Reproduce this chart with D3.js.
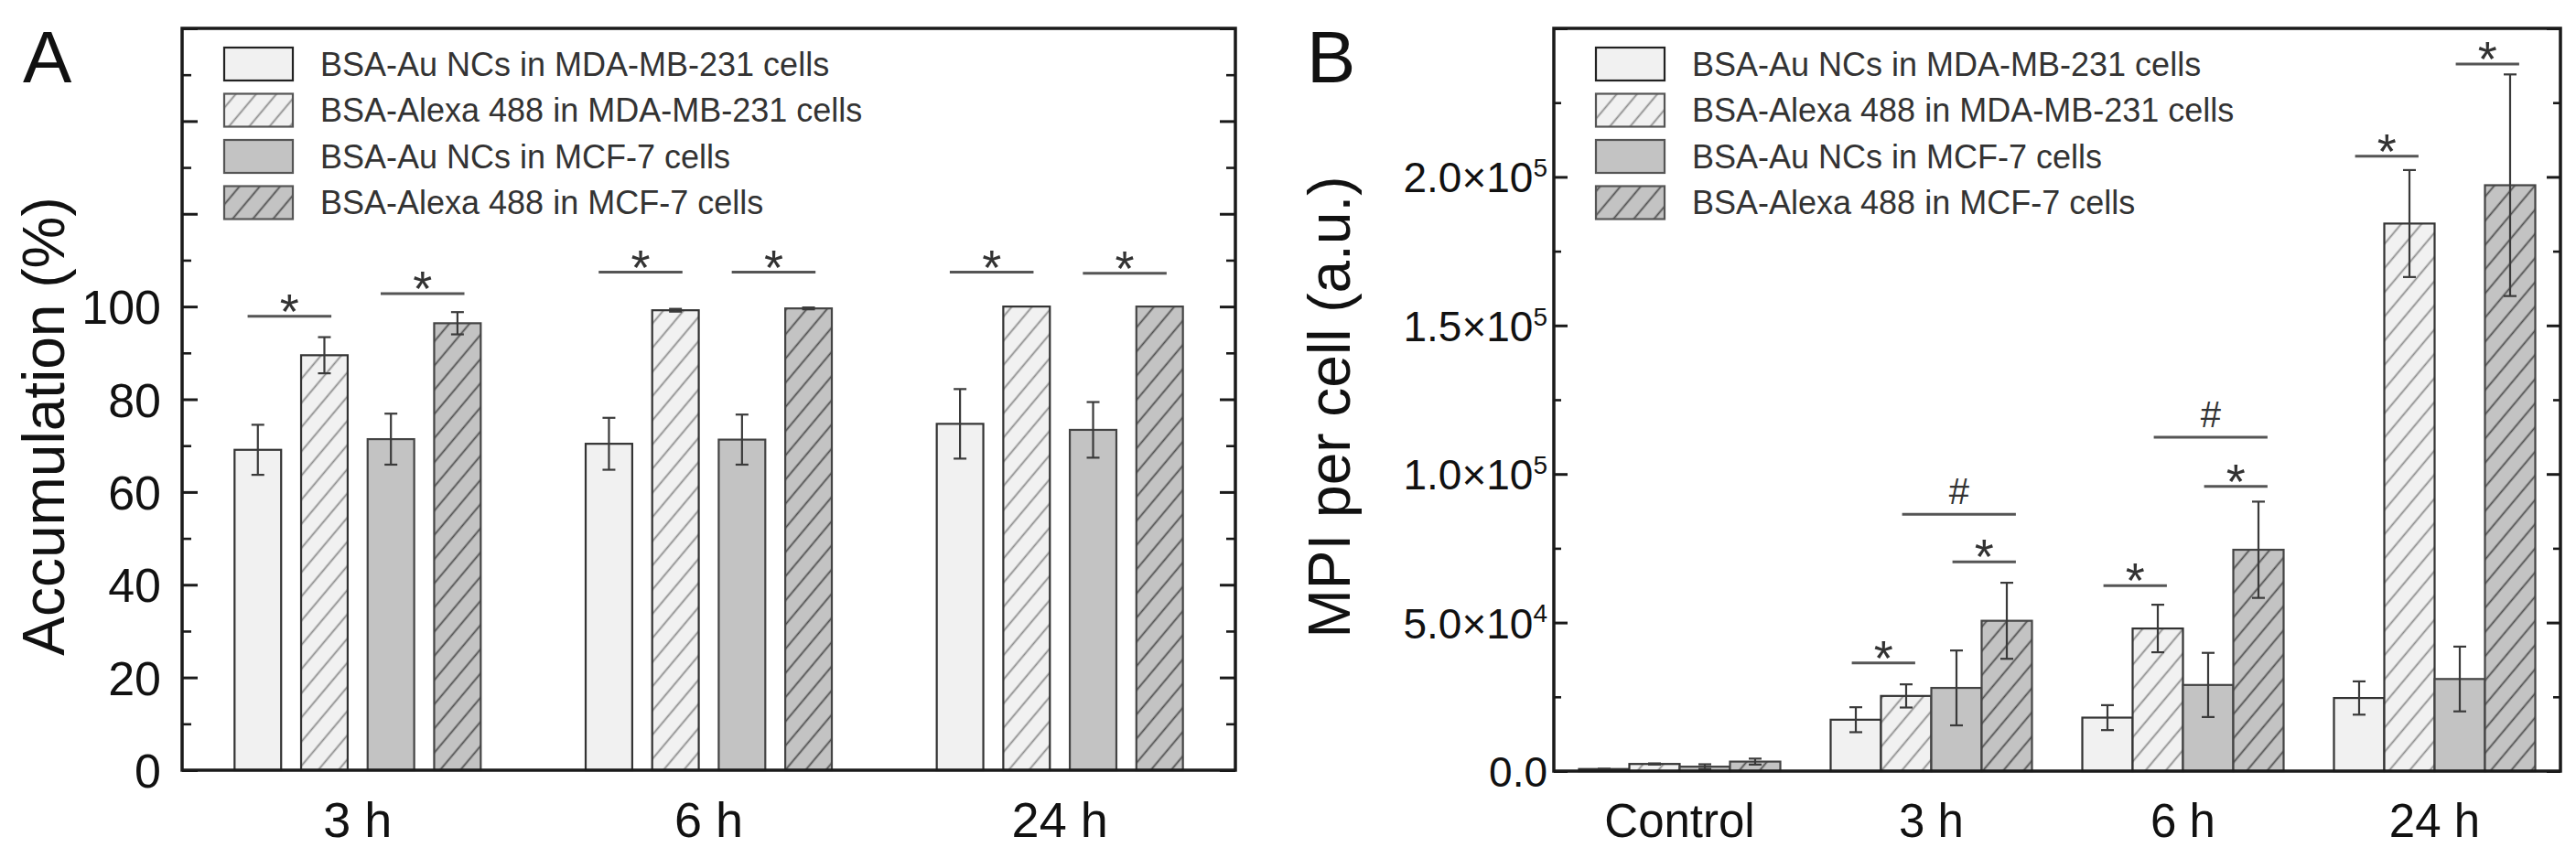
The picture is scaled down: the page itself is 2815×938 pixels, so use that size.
<!DOCTYPE html>
<html><head><meta charset="utf-8">
<script src="https://cdn.jsdelivr.net/npm/d3@7"></script>
<style>html,body{margin:0;padding:0;background:#fff;} svg{display:block;font-family:"Liberation Sans",Arial,Helvetica,sans-serif;}</style>
</head><body>
<svg id="chart" width="2815" height="938"></svg>
<script>
// ---------- DATA ----------
const seriesNames = [
  "BSA-Au NCs in MDA-MB-231 cells",
  "BSA-Alexa 488 in MDA-MB-231 cells",
  "BSA-Au NCs in MCF-7 cells",
  "BSA-Alexa 488 in MCF-7 cells"
];
// Panel A: accumulation (%)
const groupsA = ["3 h", "6 h", "24 h"];
const accAuMDA     = [69.1, 70.4, 74.7];
const accAlexaMDA  = [89.5, 99.2, 100];
const accAuMCF     = [71.4, 71.3, 73.4];
const accAlexaMCF  = [96.4, 99.6, 100];
const errAuMDA     = [5.4, 5.6, 7.5];
const errAlexaMDA  = [3.9, 0.3, 0];
const errAuMCF     = [5.5, 5.4, 6.0];
const errAlexaMCF  = [2.4, 0.2, 0];
const tickLabelsA  = ["0", "20", "40", "60", "80", "100"];
// significance marks panel A: [group, bar i, bar j, y, label]
const sigA = [
  ["3 h", 0, 1, 97.9, "*"], ["3 h", 2, 3, 102.8, "*"],
  ["6 h", 0, 1, 107.4, "*"], ["6 h", 2, 3, 107.4, "*"],
  ["24 h", 0, 1, 107.4, "*"], ["24 h", 2, 3, 107.2, "*"]
];
// Panel B: MPI per cell (a.u.)
const groupsB = ["Control", "3 h", "6 h", "24 h"];
const mpiAuMDA     = [700, 17300, 18000, 24600];
const mpiAlexaMDA  = [2400, 25300, 48000, 184300];
const mpiAuMCF     = [1500, 28000, 29000, 31000];
const mpiAlexaMCF  = [3200, 50600, 74500, 197200];
const mErrAuMDA    = [100, 4200, 4200, 5600];
const mErrAlexaMDA = [200, 3900, 8000, 18000];
const mErrAuMCF    = [800, 12600, 10800, 10900];
const mErrAlexaMCF = [1000, 12800, 16200, 37300];
const tickValuesB  = [0, 50000, 100000, 150000, 200000];
const tickMantB    = ["0.0", "5.0\u00d710", "1.0\u00d710", "1.5\u00d710", "2.0\u00d710"];
const tickExpB     = ["", "4", "5", "5", "5"];
const sigB = [
  ["3 h", 0, 1, 36400, "*"], ["3 h", 2, 3, 70400, "*"], ["3 h", 1, 3, 86400, "#"],
  ["6 h", 0, 1, 62400, "*"], ["6 h", 2, 3, 95800, "*"], ["6 h", 1, 3, 112400, "#"],
  ["24 h", 0, 1, 207000, "*"], ["24 h", 2, 3, 238000, "*"]
];

// ---------- SETUP ----------
const svg = d3.select("#chart");
const defs = svg.append("defs");
function hatch(id, bg, fg) {
  const p = defs.append("pattern").attr("id", id).attr("patternUnits", "userSpaceOnUse")
    .attr("width", 17).attr("height", 10).attr("patternTransform", "rotate(40)");
  p.append("rect").attr("width", 17).attr("height", 10).attr("fill", bg);
  p.append("line").attr("x1", 8.5).attr("x2", 8.5).attr("y1", -1).attr("y2", 11)
    .attr("stroke", fg).attr("stroke-width", 1.8);
}
hatch("hatchL", "#f1f1f1", "#8c8c8c");
hatch("hatchG", "#c3c3c3", "#4e4e4e");
const fills = ["#f1f1f1", "url(#hatchL)", "#c3c3c3", "url(#hatchG)"];
const strokes = ["#333", "#333", "#444", "#444"];

function panel(cfg) {
  const g = svg.append("g");
  const x = d3.scaleBand().domain(cfg.groups).range([cfg.x0, cfg.x1])
    .paddingInner(cfg.pi).paddingOuter(cfg.po);
  const sub = d3.scaleBand().domain([0, 1, 2, 3]).range([0, x.bandwidth()])
    .paddingInner(cfg.spi).paddingOuter(cfg.spo);
  const y = d3.scaleLinear().domain([0, cfg.ymax]).range([cfg.y0, cfg.y1]);
  const bw = sub.bandwidth();
  const cx = (grp, i) => x(grp) + sub(i) + bw / 2;

  // bars
  cfg.values.forEach((vals, s) => {
    g.append("g").selectAll("rect").data(cfg.groups.map((grp, k) => ({grp, v: vals[k]})))
      .join("rect")
      .attr("x", d => x(d.grp) + sub(s)).attr("width", bw)
      .attr("y", d => y(d.v)).attr("height", d => y(0) - y(d.v))
      .attr("fill", fills[s]).attr("stroke", strokes[s]).attr("stroke-width", 2.2);
  });
  // error bars
  cfg.values.forEach((vals, s) => {
    const data = cfg.groups.map((grp, k) => ({grp, v: vals[k], e: cfg.errors[s][k]})).filter(d => d.e > 0);
    const eg = g.append("g").attr("stroke", "#3a3a3a").attr("stroke-width", 2.2);
    eg.selectAll(".v").data(data).join("line")
      .attr("x1", d => cx(d.grp, s)).attr("x2", d => cx(d.grp, s))
      .attr("y1", d => y(d.v - d.e)).attr("y2", d => y(d.v + d.e));
    [1, -1].forEach(sg => {
      eg.selectAll(".c" + sg).data(data).join("line")
        .attr("x1", d => cx(d.grp, s) - cfg.cap).attr("x2", d => cx(d.grp, s) + cfg.cap)
        .attr("y1", d => y(d.v + sg * d.e)).attr("y2", d => y(d.v + sg * d.e));
    });
  });
  // significance
  const sg = g.append("g");
  cfg.sig.forEach(([grp, i, j, v, lab]) => {
    const xa = cx(grp, i) - cfg.sl * bw, xb = cx(grp, j) + cfg.sr * bw;
    sg.append("line").attr("x1", xa).attr("x2", xb).attr("y1", y(v)).attr("y2", y(v))
      .attr("stroke", "#555").attr("stroke-width", 3);
    if (lab === "*") {
      sg.append("text").attr("x", (xa + xb) / 2).attr("y", y(v) + 13)
        .attr("text-anchor", "middle").attr("font-size", 54).attr("fill", "#333").text("*");
    } else {
      sg.append("text").attr("x", (xa + xb) / 2).attr("y", y(v) - 11)
        .attr("text-anchor", "middle").attr("font-size", 40).attr("fill", "#333").text("#");
    }
  });
  // ticks (inward, left & right)
  const tk = (axisFn, pos, vals, size, w) => {
    const a = g.append("g").attr("transform", `translate(${pos},0)`)
      .call(axisFn(y).tickValues(vals).tickSize(size).tickFormat(""));
    a.select(".domain").remove();
    a.selectAll("line").attr("stroke", "#1a1a1a").attr("stroke-width", w);
  };
  tk(d3.axisRight, cfg.x0, cfg.major, cfg.majLen, 3);
  tk(d3.axisRight, cfg.x0, cfg.minor, cfg.minLen, 2.6);
  tk(d3.axisLeft, cfg.x1, cfg.major, cfg.majLen, 3);
  tk(d3.axisLeft, cfg.x1, cfg.minor, cfg.minLen, 2.6);
  // frame
  g.append("rect").attr("x", cfg.x0).attr("y", cfg.y1).attr("width", cfg.x1 - cfg.x0)
    .attr("height", cfg.y0 - cfg.y1).attr("fill", "none").attr("stroke", "#1a1a1a").attr("stroke-width", 3.5);
  // tick labels
  const lab = g.append("g").attr("transform", `translate(${cfg.x0},0)`)
    .call(d3.axisLeft(y).tickValues(cfg.labelValues).tickSize(0).tickPadding(cfg.labPad));
  lab.select(".domain").remove();
  lab.selectAll("text").attr("font-size", cfg.labSize).attr("fill", "#111")
    .attr("font-family", '"Liberation Sans",Arial,sans-serif').attr("dy", "0.36em");
  cfg.formatLabels(lab.selectAll(".tick text"));
  // x labels
  g.append("g").selectAll("text").data(cfg.groups).join("text")
    .attr("x", d => x(d) + x.bandwidth() / 2).attr("y", 915)
    .attr("text-anchor", "middle").attr("font-size", cfg.xlabSize).attr("fill", "#111").text(d => d);
  // y title
  g.append("text").attr("transform", `translate(${cfg.titleX},${cfg.titleY}) rotate(-90)`)
    .attr("text-anchor", "middle").attr("font-size", 64).attr("fill", "#111").text(cfg.title);
  // panel letter
  g.append("text").attr("x", cfg.letterX).attr("y", 90).attr("font-size", 80).attr("fill", "#111").text(cfg.letter);
  // legend
  const lg = g.append("g");
  seriesNames.forEach((nm, s) => {
    const cy = 70 + s * 50.5;
    lg.append("rect").attr("x", cfg.x0 + 46).attr("y", cy - 18).attr("width", 75).attr("height", 36)
      .attr("fill", fills[s]).attr("stroke", s === 0 ? "#222" : "#555").attr("stroke-width", 2.2);
    lg.append("text").attr("x", cfg.x0 + 151).attr("y", cy).attr("dy", "0.35em")
      .attr("font-size", 36).attr("fill", "#333").text(nm);
  });
}

panel({
  groups: groupsA, x0: 199, x1: 1350, pi: 0.242, po: 0.121, spi: 0.3, spo: 0.15,
  y0: 842, y1: 31, ymax: 160,
  values: [accAuMDA, accAlexaMDA, accAuMCF, accAlexaMCF],
  errors: [errAuMDA, errAlexaMDA, errAuMCF, errAlexaMCF],
  cap: 7, sig: sigA, sl: 0.22, sr: 0.15,
  major: d3.range(0, 161, 20), minor: d3.range(10, 160, 20), majLen: 17, minLen: 10,
  labelValues: d3.range(0, 101, 20), labPad: 23, labSize: 52,
  formatLabels: sel => sel.text((d, i) => tickLabelsA[i]),
  xlabSize: 54, titleX: 70, titleY: 466, title: "Accumulation (%)", letter: "A", letterX: 25
});

panel({
  groups: groupsB, x0: 1698, x1: 2798, pi: 0.2, po: 0.1, spi: 0, spo: 0,
  y0: 843, y1: 31, ymax: 250000,
  values: [mpiAuMDA, mpiAlexaMDA, mpiAuMCF, mpiAlexaMCF],
  errors: [mErrAuMDA, mErrAlexaMDA, mErrAuMCF, mErrAlexaMCF],
  cap: 7, sig: sigB, sl: 0.08, sr: 0.18,
  major: d3.range(0, 250001, 50000), minor: d3.range(25000, 250000, 50000), majLen: 15, minLen: 8,
  labelValues: tickValuesB, labPad: 7, labSize: 46,
  formatLabels: sel => sel.each(function(d, i) {
    const t = d3.select(this).text(tickMantB[i]);
    if (tickExpB[i]) t.append("tspan").attr("dy", "-0.62em").attr("font-size", 28).text(tickExpB[i]);
  }),
  xlabSize: 51, titleX: 1475, titleY: 445, title: "MPI per cell (a.u.)", letter: "B", letterX: 1428
});
</script>
</body></html>
